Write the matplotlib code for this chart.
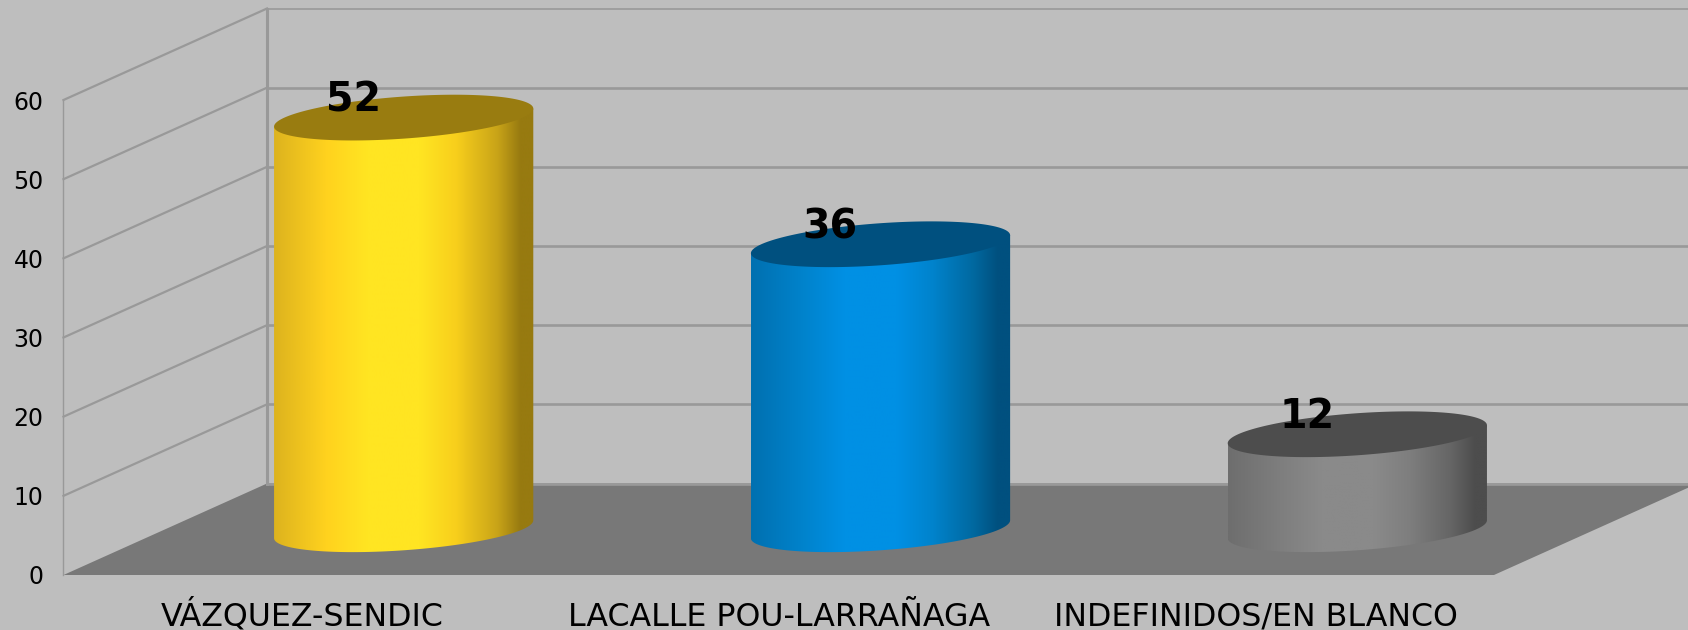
import numpy as np
import matplotlib
matplotlib.use('Agg')
import matplotlib.pyplot as plt
from matplotlib.colors import LinearSegmentedColormap
from matplotlib.patches import Polygon

categories = ['VÁZQUEZ-SENDIC', 'LACALLE POU-LARRAÑAGA', 'INDEFINIDOS/EN BLANCO']
values = [52, 36, 12]
y_ticks = [0, 10, 20, 30, 40, 50, 60]

side_colors = [
    ['#DDB31E', '#FFD21E', '#FFE522', '#FFE522', '#F8CF1C', '#C9A418', '#977A10', '#977A10'],
    ['#0070B0', '#0083CC', '#0090E4', '#0090E4', '#0083CC', '#00689F', '#00507F', '#00507F'],
    ['#6E6E6E', '#7E7E7E', '#8A8A8A', '#8A8A8A', '#7E7E7E', '#656565', '#4D4D4D', '#4D4D4D'],
]
top_colors = ['#997C10', '#00507F', '#4D4D4D']
side_stops = [0, 0.2, 0.36, 0.56, 0.7, 0.86, 0.95, 1]

BG = '#BEBEBE'
FLOOR = '#787878'
GRID = '#999999'

# oblique depth of the box, in data units
DEPTH_X = 203.5 / 476.8
DEPTH_Y = 91.5 / 7.917
RADIUS = 0.25

fig = plt.figure(figsize=(16.88, 6.3), dpi=100, facecolor=BG)
ax = fig.add_axes([63.5 / 1688, 1 - 575 / 630, 1430.5 / 1688, 475 / 630])
ax.patch.set_alpha(0)
for s in ax.spines.values():
    s.set_visible(False)


def depth(x, y, d):
    return x + d * DEPTH_X, y + d * DEPTH_Y


def rim(t):
    # circle of the cylinder seen in the oblique projection
    return RADIUS * (np.cos(t) + np.sin(t) * DEPTH_X), RADIUS * np.sin(t) * DEPTH_Y


# floor
floor_pts = [depth(-0.5, 0, 0), depth(2.5, 0, 0), depth(2.5, 0, 1), depth(-0.5, 0, 1)]
ax.add_patch(Polygon(floor_pts, closed=True, fc=FLOOR, ec='none', clip_on=False, zorder=1))

# walls and gridlines
for v in y_ticks:
    x0, y0 = depth(-0.5, v, 1)
    x1, y1 = depth(2.5, v, 1)
    if v > 0:
        ax.plot([-0.5, x0], [v, y0], color=GRID, lw=1.6, clip_on=False, zorder=2)
    ax.plot([x0, x1], [y0, y1], color=GRID, lw=1.9 if v < 60 else 1.2, clip_on=False, zorder=2)
ax.plot([-0.5, -0.5], [0, 60], color=GRID, lw=1.0, clip_on=False, zorder=2)
bx, by = depth(-0.5, 0, 1)
ax.plot([bx, bx], [by, by + 60], color=GRID, lw=2.2, clip_on=False, zorder=2)

# cylinders
tangent = np.arctan(DEPTH_X)
for i, v in enumerate(values):
    cx, cy = depth(i, 0, 0.5)
    ex, ey = rim(np.linspace(0, 2 * np.pi, 361))
    low_x, low_y = rim(np.linspace(tangent + np.pi, tangent + 2 * np.pi, 200))

    # silhouette: lower half of the base, then straight up the right side and across
    body = np.column_stack([cx + low_x, cy + low_y])
    body = np.vstack([body, [cx + low_x[-1], cy + low_y[-1] + v], [cx + low_x[0], cy + low_y[0] + v]])
    clip = Polygon(body, closed=True, fc='none', ec='none', clip_on=False)
    ax.add_patch(clip)

    cmap = LinearSegmentedColormap.from_list('side', list(zip(side_stops, side_colors[i])))
    grad = np.linspace(0, 1, 256).reshape(1, -1)
    im = ax.imshow(grad, cmap=cmap, extent=[cx + ex.min(), cx + ex.max(), cy - 6, cy + v + 6],
                   aspect='auto', zorder=3, interpolation='bilinear')
    im.set_clip_box(fig.bbox)
    im.set_clip_path(clip)

    ax.add_patch(Polygon(np.column_stack([cx + ex, cy + ey + v]), closed=True,
                         fc=top_colors[i], ec='none', clip_on=False, zorder=4))

    ax.annotate(str(v), (cx, cy + v), xytext=(-50.5 * 0.72, 17 * 0.72), textcoords='offset points',
                ha='center', va='center', fontsize=28.5, fontweight='bold', color='black',
                zorder=5, annotation_clip=False)

ax.set_xlim(-0.5, 2.5)
ax.set_ylim(0, 60)
ax.set_xticks(range(len(categories)))
ax.set_xticklabels(categories, fontsize=22.8, va='baseline')
ax.set_yticks(y_ticks)
ax.tick_params(axis='y', length=0, pad=14.4, labelsize=17)
ax.tick_params(axis='x', length=0, pad=36.7)

fig.savefig('out.png', dpi=100, facecolor=BG)
